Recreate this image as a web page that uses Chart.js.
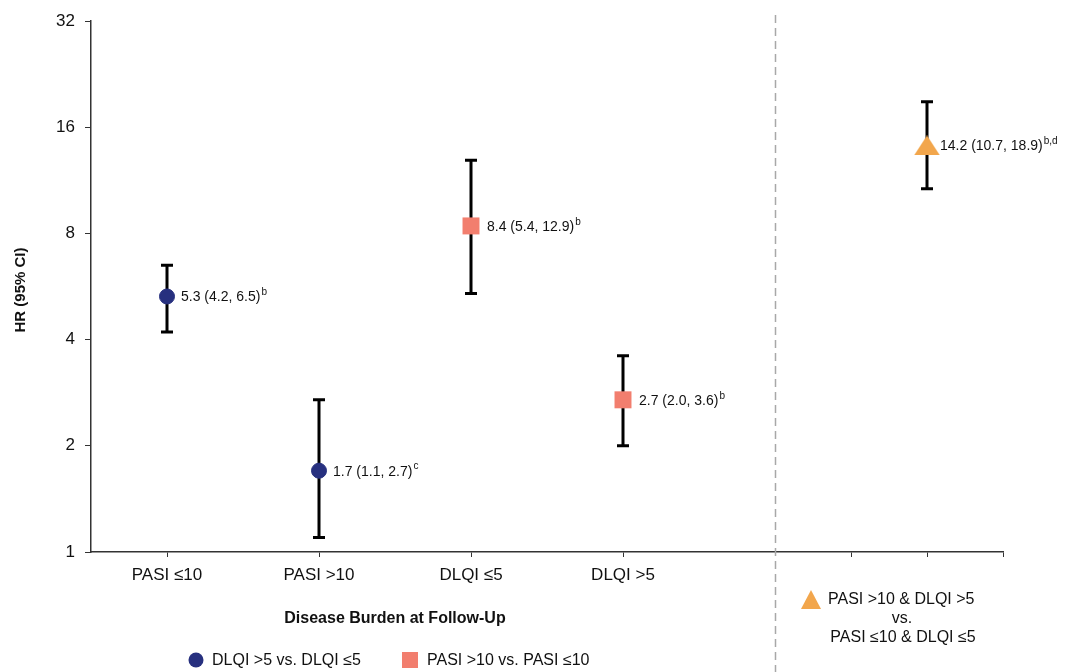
<!DOCTYPE html>
<html>
<head>
<meta charset="utf-8">
<script src="https://cdn.jsdelivr.net/npm/chart.js@4.4.1/dist/chart.umd.min.js"></script>
<style>
  html, body { margin: 0; padding: 0; background: #fff; }
  #wrap { width: 1072px; height: 672px; position: relative; }
</style>
</head>
<body>
<div id="wrap"><canvas id="hrChart" width="1072" height="672"></canvas></div>
<script>
const categories = ["PASI ≤10", "PASI >10", "DLQI ≤5", "DLQI >5"];
const yTicks = [1, 2, 4, 8, 16, 32];

// slot index on the x axis (slot 4 is the gap before the combined group)
const dlqiSlots = [0, 1];
const dlqiHR = [5.3, 1.7];
const dlqiLow = [4.2, 1.1];
const dlqiHigh = [6.5, 2.7];
const dlqiNotes = ["b", "c"];

const pasiSlots = [2, 3];
const pasiHR = [8.4, 2.7];
const pasiLow = [5.4, 2.0];
const pasiHigh = [12.9, 3.6];
const pasiNotes = ["b", "b"];

const comboSlots = [5];
const comboHR = [14.2];
const comboLow = [10.7];
const comboHigh = [18.9];
const comboNotes = ["b,d"];

const seriesNames = [
  "DLQI >5 vs. DLQI ≤5",
  "PASI >10 vs. PASI ≤10",
  ["PASI >10 & DLQI >5", "vs.", "PASI ≤10 & DLQI ≤5"],
];

const BLUE = "#27307f";
const SALMON = "#f27e6e";
const ORANGE = "#f2a64c";
const FONT = "'Liberation Sans', Arial, sans-serif";

function triangleImage(w, h, color) {
  const c = document.createElement("canvas");
  c.width = w;
  c.height = h;
  const g = c.getContext("2d");
  g.fillStyle = color;
  g.beginPath();
  g.moveTo(w / 2, 0);
  g.lineTo(w, h);
  g.lineTo(0, h);
  g.closePath();
  g.fill();
  return c;
}

function toPoints(slots, hr, low, high, notes) {
  return slots.map((s, i) => ({
    x: s + 0.5,
    y: hr[i],
    low: low[i],
    high: high[i],
    note: notes[i],
  }));
}

const errorBars = {
  id: "errorBars",
  beforeDatasetsDraw(chart) {
    const { ctx, scales } = chart;
    const x = scales.x, y = scales.y;
    // dashed separator
    ctx.save();
    ctx.strokeStyle = "#a8a8a8";
    ctx.lineWidth = 1.5;
    ctx.setLineDash([8, 5]);
    const sx = Math.round(x.getPixelForValue(4.5)) + 0.5;
    ctx.beginPath();
    ctx.moveTo(sx, 15);
    ctx.lineTo(sx, 672);
    ctx.stroke();
    ctx.restore();

    ctx.save();
    ctx.strokeStyle = "#000";
    ctx.lineWidth = 3;
    chart.data.datasets.forEach((ds) => {
      ds.data.forEach((p) => {
        const px = x.getPixelForValue(p.x);
        const yl = y.getPixelForValue(p.low);
        const yh = y.getPixelForValue(p.high);
        ctx.beginPath();
        ctx.moveTo(px, yl);
        ctx.lineTo(px, yh);
        ctx.moveTo(px - 6, yl);
        ctx.lineTo(px + 6, yl);
        ctx.moveTo(px - 6, yh);
        ctx.lineTo(px + 6, yh);
        ctx.stroke();
      });
    });
    ctx.restore();
  },
  afterDatasetsDraw(chart) {
    const { ctx, scales } = chart;
    ctx.save();
    ctx.fillStyle = "#111";
    ctx.textBaseline = "middle";
    chart.data.datasets.forEach((ds) => {
      ds.data.forEach((p) => {
        const px = scales.x.getPixelForValue(p.x) + ds.labelGap;
        const py = scales.y.getPixelForValue(p.y) + 1;
        const main = p.y.toFixed(1) + " (" + p.low.toFixed(1) + ", " + p.high.toFixed(1) + ")";
        ctx.font = "14px " + FONT;
        ctx.fillText(main, px, py);
        const w = ctx.measureText(main).width;
        ctx.font = "10px " + FONT;
        ctx.fillText(p.note, px + w + 1, py - 5);
      });
    });
    ctx.restore();
  },
  afterDraw(chart) {
    const { ctx, scales } = chart;
    ctx.save();
    ctx.fillStyle = "#111";
    ctx.textBaseline = "middle";

    // y title
    ctx.save();
    ctx.translate(21, 290);
    ctx.rotate(-Math.PI / 2);
    ctx.textAlign = "center";
    ctx.font = "bold 15px " + FONT;
    ctx.fillText("HR (95% CI)", 0, 0);
    ctx.restore();

    // x title
    ctx.textAlign = "center";
    ctx.font = "bold 16px " + FONT;
    const cx = (scales.x.getPixelForValue(0.5) + scales.x.getPixelForValue(3.5)) / 2;
    ctx.fillText("Disease Burden at Follow-Up", cx, 619);

    // legend
    ctx.textAlign = "left";
    ctx.font = "16px " + FONT;
    ctx.fillStyle = BLUE;
    ctx.beginPath();
    ctx.arc(196, 660, 7.5, 0, Math.PI * 2);
    ctx.fill();
    ctx.fillStyle = "#111";
    ctx.fillText(seriesNames[0], 212, 661);

    ctx.fillStyle = SALMON;
    ctx.fillRect(402, 652, 16, 16);
    ctx.fillStyle = "#111";
    ctx.fillText(seriesNames[1], 427, 661);

    ctx.drawImage(triangleImage(20, 19, ORANGE), 801, 590);
    ctx.fillStyle = "#111";
    ctx.fillText(seriesNames[2][0], 828, 600);
    ctx.textAlign = "center";
    ctx.fillText(seriesNames[2][1], 902, 619);
    ctx.fillText(seriesNames[2][2], 903, 638);
    ctx.restore();
  },
};

new Chart(document.getElementById("hrChart"), {
  type: "scatter",
  data: {
    datasets: [
      {
        label: seriesNames[0],
        data: toPoints(dlqiSlots, dlqiHR, dlqiLow, dlqiHigh, dlqiNotes),
        pointStyle: "circle",
        pointRadius: 7.5,
        backgroundColor: BLUE,
        borderColor: BLUE,
        labelGap: 14,
      },
      {
        label: seriesNames[1],
        data: toPoints(pasiSlots, pasiHR, pasiLow, pasiHigh, pasiNotes),
        pointStyle: "rect",
        pointRadius: 12,
        borderWidth: 0,
        backgroundColor: SALMON,
        borderColor: SALMON,
        labelGap: 16,
      },
      {
        label: "combined",
        data: toPoints(comboSlots, comboHR, comboLow, comboHigh, comboNotes),
        pointStyle: triangleImage(26, 20, ORANGE),
        pointRadius: 12,
        backgroundColor: ORANGE,
        labelGap: 13,
      },
    ],
  },
  options: {
    responsive: false,
    animation: false,
    clip: false,
    layout: { padding: { top: 21, right: 69, left: 0, bottom: 0 } },
    plugins: {
      legend: { display: false },
      tooltip: { enabled: false },
    },
    scales: {
      x: {
        type: "linear",
        min: 0,
        max: 6,
        afterBuildTicks: (scale) => {
          scale.ticks = [0.5, 1.5, 2.5, 3.5, 5, 5.5, 6].map((v) => ({ value: v }));
        },
        afterFit: (scale) => {
          scale.height = 120;
        },
        grid: { drawOnChartArea: false, drawTicks: true, tickLength: 5, color: "#333" },
        border: { color: "#333", width: 1.5 },
        ticks: {
          padding: 8,
          maxRotation: 0,
          autoSkip: false,
          color: "#111",
          font: { size: 17, family: FONT },
          callback: (v) => {
            const i = v - 0.5;
            return Number.isInteger(i) && i < categories.length ? categories[i] : "";
          },
        },
      },
      y: {
        type: "logarithmic",
        min: 1,
        max: 32,
        afterBuildTicks: (scale) => {
          scale.ticks = yTicks.map((v) => ({ value: v }));
        },
        afterFit: (scale) => {
          scale.width = 91;
        },
        grid: { drawOnChartArea: false, drawTicks: true, tickLength: 6, color: "#333" },
        border: { color: "#333", width: 1.5 },
        ticks: {
          padding: 10,
          color: "#111",
          font: { size: 17, family: FONT },
          callback: (v) => String(v),
        },
      },
    },
  },
  plugins: [errorBars],
});
</script>
</body>
</html>
